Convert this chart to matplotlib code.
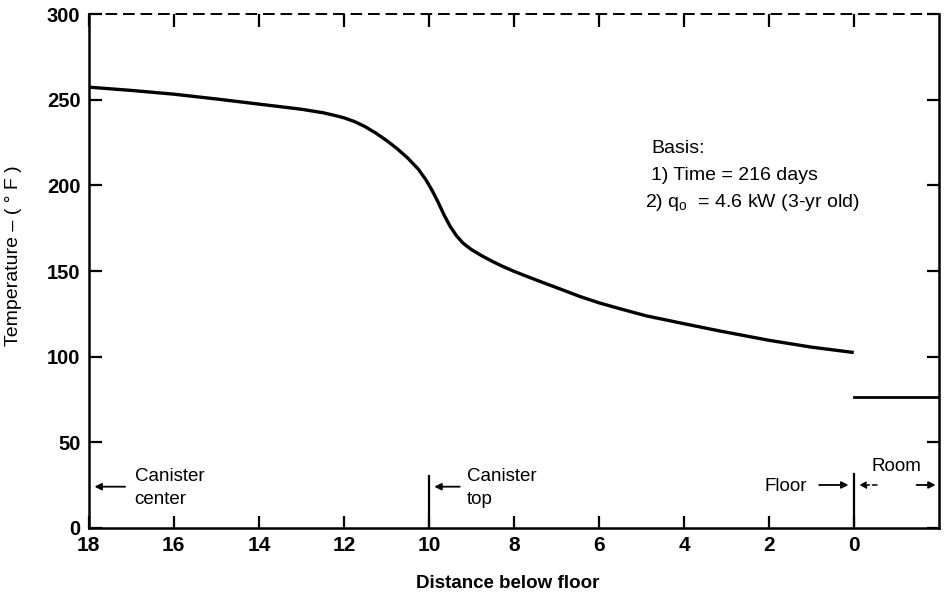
import matplotlib.pyplot as plt
import numpy as np

plt.rcParams['font.family'] = ['Liberation Sans', 'DejaVu Sans']

# temperature profile below the floor (ft below floor, deg F)
depth = [18, 17, 16, 15, 14, 13, 12.5, 12.25, 12, 11.75, 11.5, 11.25, 11,
         10.75, 10.5, 10.25, 10.07, 9.92, 9.79, 9.65, 9.5, 9.35, 9.2, 9.0,
         8.75, 8.5, 8.25, 8.0, 7.64, 7.25, 7, 6.46, 6, 5.5, 4.89, 4, 3.17, 2,
         1, 0.05]
temp = [257.4, 255.5, 253.3, 250.5, 247.5, 244.5, 242.5, 241.1, 239.5, 237.3,
        234.3, 230.6, 226.3, 221.5, 216, 209.5, 203.2, 196.8, 190.5, 183,
        176, 170.5, 166.3, 162.5, 158.8, 155.5, 152.5, 149.8, 146.3, 142.6,
        140.3, 135.2, 131.4, 127.9, 123.8, 119.2, 115, 109.5, 105.5, 102.5]

room_x = [0, -2]
room_temp = [76.5, 76.5]

xticks = [18, 16, 14, 12, 10, 8, 6, 4, 2, 0]
yticks = [0, 50, 100, 150, 200, 250, 300]

fig = plt.figure(figsize=(9.44, 5.93), dpi=100)
ax = fig.add_axes([0.094, 0.110, 0.901, 0.866])

ax.plot(depth, temp, color='black', lw=2.4, solid_joinstyle='round')
ax.plot(room_x, room_temp, color='black', lw=2.0)

ax.set_xlim(18, -2)
ax.set_ylim(0, 300)
ax.set_xticks(xticks)
ax.set_yticks(yticks)

for s in ['left', 'bottom', 'right']:
    ax.spines[s].set_linewidth(1.8)
ax.spines['top'].set_linewidth(1.4)
ax.spines['top'].set_linestyle((0, (5, 4)))

ax.tick_params(axis='both', direction='in', length=9, width=1.6,
               top=True, right=True)
ax.tick_params(axis='y', pad=6, labelsize=14.5)
ax.tick_params(axis='x', pad=6, labelsize=15)
for lab in ax.get_xticklabels() + ax.get_yticklabels():
    lab.set_fontweight('bold')

ax.set_xlabel('Distance below floor', fontsize=13.5, fontweight='bold')
ax.xaxis.set_label_coords(0.493, -0.091)
ax.set_ylabel('Temperature – ( ° F )', fontsize=14)
ax.yaxis.set_label_coords(-0.079, 0.53)

# basis note
ax.text(4.77, 221.8, 'Basis:', fontsize=14, va='center')
ax.text(4.77, 206, '1) Time = 216 days', fontsize=14, va='center')
ax.text(4.93, 190.3, '2) q$_\\mathregular{o}$  = 4.6 kW (3-yr old)', fontsize=14,
        va='center')

# markers for canister center, canister top, floor and room
arrow = dict(arrowstyle='-|>', color='black', lw=1.3, mutation_scale=10)
ax.annotate('', xy=(17.93, 24), xytext=(17.08, 24), arrowprops=arrow)
ax.text(16.92, 29.8, 'Canister', fontsize=13.5, va='center')
ax.text(16.92, 16.3, 'center', fontsize=13.5, va='center')

ax.plot([10, 10], [0, 30], color='black', lw=1.6)
ax.annotate('', xy=(9.94, 24), xytext=(9.21, 24), arrowprops=arrow)
ax.text(9.1, 29.8, 'Canister', fontsize=13.5, va='center')
ax.text(9.1, 16.3, 'top', fontsize=13.5, va='center')

ax.plot([0, 0], [0, 31.5], color='black', lw=1.6)
ax.text(2.12, 24, 'Floor', fontsize=13.5, va='center')
ax.annotate('', xy=(0.07, 25), xytext=(0.89, 25), arrowprops=arrow)
ax.annotate('', xy=(-0.05, 25), xytext=(-0.6, 25),
            arrowprops=dict(arrowstyle='-|>', color='black', lw=1.1,
                            linestyle=(0, (3, 2)), mutation_scale=10))
ax.annotate('', xy=(-1.98, 25), xytext=(-1.4, 25), arrowprops=arrow)
ax.text(-0.4, 36, 'Room', fontsize=13.5, va='center')

fig.savefig('out.png', dpi=100)
